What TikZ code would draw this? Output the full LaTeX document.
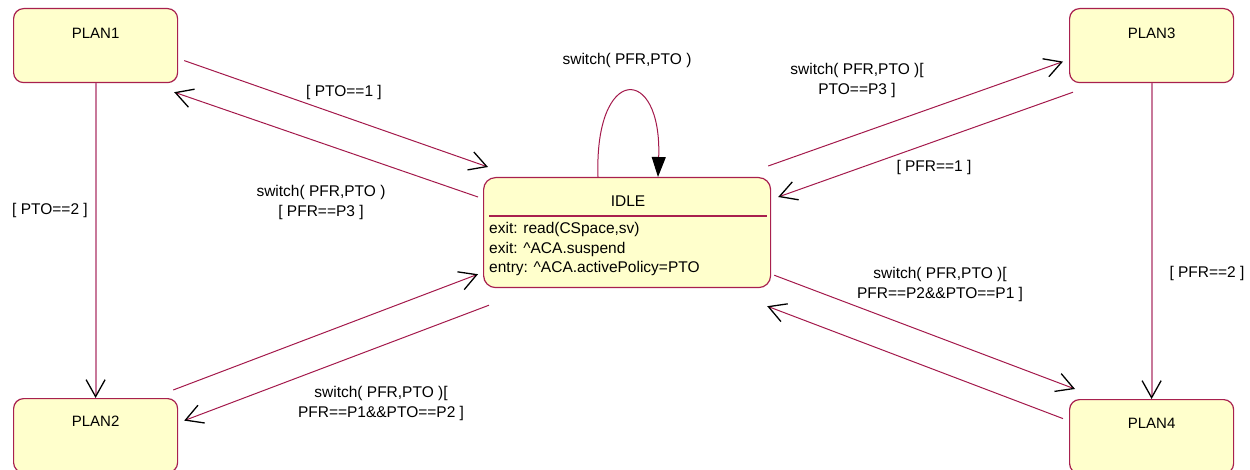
\documentclass[tikz,border=0pt]{standalone}
\usepackage{fontspec}
\setmainfont{Liberation Sans}
\usetikzlibrary{arrows.meta,calc}
\definecolor{boxfill}{HTML}{FFFFCC}
\definecolor{boxline}{HTML}{A8204E}
\definecolor{wire}{HTML}{A3194B}
\definecolor{wiresoft}{HTML}{C8789A}

\tikzset{
  stbox/.style={draw=boxline, line width=1.2pt, fill=boxfill, rounded corners=10pt,
    minimum width=164pt, minimum height=74pt, inner sep=0pt},
  plantext/.style={font=\fontsize{15}{18}\selectfont, inner sep=0pt},
  acttext/.style={font=\fontsize{15.5}{19.5}\selectfont, inner sep=0pt, anchor=west,
    text height=11pt, text depth=3pt},
  lbl/.style={font=\fontsize{15.5}{20}\selectfont, align=center, inner sep=0pt},
  trans/.style={draw=wire, line width=1pt,
    -{Straight Barb[length=17pt,width=19pt,line width=1.3pt,color=black]}},
  vtrans/.style={trans, draw=wiresoft, line width=1.8pt},
  selfloop/.style={draw=wire, line width=1pt,
    -{Triangle[length=20pt,width=14pt,color=black]}},
}

\begin{document}
\begin{tikzpicture}[x=1pt,y=-1pt]
\clip (0,0) rectangle (1250,470);

% states
\node[stbox, anchor=north west] (p1) at (13,8) {};
\node[plantext] (p1t) at ($(p1.north)+(0,25)$) {PLAN1};
\node[stbox, anchor=north west] (p2) at (13,398) {};
\node[plantext] (p2t) at ($(p2.north)+(0,23)$) {PLAN2};
\node[stbox, anchor=north west] (p3) at (1069,8) {};
\node[plantext] (p3t) at ($(p3.north)+(0,25)$) {PLAN3};
\node[stbox, anchor=north west] (p4) at (1069,399) {};
\node[plantext] (p4t) at ($(p4.north)+(0,24)$) {PLAN4};

% composite state with its actions
\node[stbox, minimum width=287pt, minimum height=110pt, rounded corners=12pt,
      anchor=north west] (idle) at (483,177) {};
\node[lbl] (idlet) at ($(idle.north)+(1,24)$) {IDLE};
\draw[draw=boxline, line width=1.2pt] ($(idle.north west)+(6,39)$) -- ($(idle.north east)+(-4,39)$);
\node[acttext] (a1) at ($(idle.north west)+(6,53)$) {exit: read(CSpace,sv)};
\node[acttext] (a2) at ($(idle.north west)+(6,73)$) {exit: \^{}ACA.suspend};
\node[acttext] (a3) at ($(idle.north west)+(6,92)$) {entry: \^{}ACA.activePolicy=PTO};

% transitions
\draw[trans] ($(p1.east)+(6,15)$) -- ($(idle.north west)+(5,-10)$);
\draw[trans] ($(idle.north west)+(-5,20)$) -- ($(p1.south east)+(-4,9)$);
\draw[vtrans] (p1.south) -- (p2.north);
\draw[trans] ($(p2.north east)+(-5,-8)$) -- ($(idle.south west)+(-5,-14)$);
\draw[trans] ($(idle.south west)+(6,17)$) -- ($(p2.east)+(6,-15)$);
\draw[trans] ($(idle.north east)+(-3,-11)$) -- ($(p3.west)+(-6,16)$);
\draw[trans] ($(p3.south west)+(4,9)$) -- ($(idle.north east)+(7,20)$);
\draw[vtrans] (p3.south) -- (p4.north);
\draw[trans] ($(idle.south east)+(3,-13)$) -- ($(p4.north west)+(6,-10)$);
\draw[trans] ($(p4.west)+(-6,-18)$) -- ($(idle.south east)+(-4,18)$);
\draw[selfloop] ($(idle.north west)+(115,0)$)
  .. controls ($(idle.north west)+(111,-113)$) and ($(idle.north west)+(179,-113)$)
  .. ($(idle.north west)+(175,0)$);

% transition labels
\node[lbl] (l0) at (627,60) {switch( PFR,PTO )};
\node[lbl] (l1) at (344,92) {[ PTO==1 ]};
\node[lbl] (l2) at (321,202) {switch( PFR,PTO )\\{[} PFR==P3 ]};
\node[lbl] (l3) at (50,210) {[ PTO==2 ]};
\node[lbl] (l4) at (381,403) {switch( PFR,PTO )[\\PFR==P1\&\&PTO==P2 ]};
\node[lbl] (l5) at (857,80) {switch( PFR,PTO )[\\PTO==P3 ]};
\node[lbl] (l6) at (934,167) {[ PFR==1 ]};
\node[lbl] (l7) at (1207,273) {[ PFR==2 ]};
\node[lbl] (l8) at (940,284) {switch( PFR,PTO )[\\PFR==P2\&\&PTO==P1 ]};
\end{tikzpicture}
\end{document}
